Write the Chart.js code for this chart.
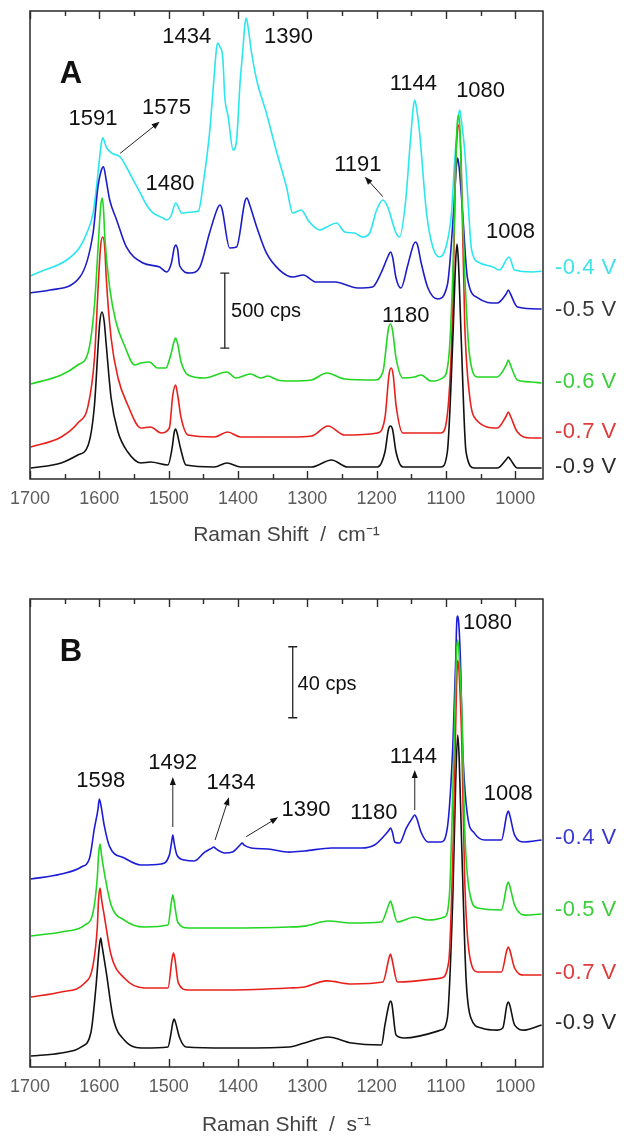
<!DOCTYPE html>
<html>
<head>
<meta charset="utf-8">
<script src="https://cdn.jsdelivr.net/npm/chart.js@4.4.1/dist/chart.umd.min.js"></script>
<style>
  html, body { margin: 0; padding: 0; background: #fff; }
  #wrap { position: relative; width: 624px; height: 1137px; }
  canvas { position: absolute; left: 0; }
  #cA { top: 0; }
  #cB { top: 568px; }
</style>
</head>
<body>
<div id="wrap">
  <canvas id="cA" width="624" height="568"></canvas>
  <canvas id="cB" width="624" height="569"></canvas>
</div>
<script>
// ---------- axis ticks (Raman shift) ----------
const shiftTicks = [1700, 1600, 1500, 1400, 1300, 1200, 1100, 1000];
const shiftMinor = [1650, 1550, 1450, 1350, 1250, 1150, 1050];

// ---------- Panel A : spectra (cps, stacked) ----------
const potentialsA = ['-0.4 V', '-0.5 V', '-0.6 V', '-0.7 V', '-0.9 V'];

const shiftA04 = [1699,1686,1647,1628,1618,1609,1604,1601,1597,1595,1592,1590,1582,1570,1561,1551,1541,1530,1522,1508,1503,1496,1490,1481,1467,1457,1450,1441,1434,1431,1429,1426,1422,1419,1414,1407,1402,1397,1393,1390,1388,1385,1381,1373,1359,1345,1330,1321,1309,1297,1282,1272,1258,1246,1232,1220,1210,1200,1191,1184,1172,1167,1158,1152,1147,1145,1142,1138,1128,1119,1109,1100,1092,1088,1082,1080,1078,1073,1068,1063,1051,1032,1023,1009,1001,975,962];
const cpsA04   = [1355,1380,1460,1547,1640,1773,1947,2080,2240,2275,2240,2213,2173,2147,2080,1993,1907,1813,1773,1740,1727,1760,1840,1773,1780,1787,1973,2307,2707,2870,2907,2880,2813,2547,2413,2193,2260,2640,2860,3030,3073,3000,2860,2660,2440,2193,1947,1773,1793,1713,1660,1680,1707,1647,1640,1613,1640,1793,1860,1813,1640,1613,1860,2213,2480,2527,2460,2307,1773,1547,1480,1547,1773,2080,2420,2460,2400,2193,1840,1527,1440,1413,1393,1480,1393,1380,1385];

const shiftA05 = [1700,1671,1628,1609,1602,1597,1594,1590,1585,1575,1561,1537,1513,1503,1496,1492,1490,1487,1484,1469,1455,1441,1429,1426,1423,1412,1402,1390,1387,1384,1373,1359,1340,1321,1306,1287,1260,1227,1206,1193,1183,1180,1177,1172,1165,1155,1147,1144,1141,1136,1126,1112,1098,1089,1085,1083,1081,1076,1069,1054,1026,1013,1010,1007,997,962];
const cpsA05   = [1240,1260,1347,1640,1947,2060,2082,1990,1860,1727,1547,1440,1413,1380,1440,1540,1560,1530,1420,1373,1413,1640,1810,1827,1800,1540,1547,1850,1873,1840,1680,1507,1393,1347,1360,1313,1313,1273,1280,1380,1490,1513,1480,1340,1273,1427,1560,1580,1560,1447,1273,1200,1293,1780,2080,2140,2080,1780,1340,1207,1173,1235,1260,1235,1147,1133];

const shiftA06 = [1699,1655,1631,1616,1607,1601,1598,1596,1594,1592,1585,1576,1564,1549,1540,1528,1516,1504,1497,1492,1490,1487,1482,1472,1448,1416,1403,1382,1367,1357,1343,1325,1294,1272,1246,1203,1191,1183,1180,1177,1172,1162,1145,1136,1121,1105,1096,1090,1087,1084,1082,1080,1077,1073,1066,1054,1026,1013,1010,1007,997,977,962];
const cpsA06   = [633,693,760,847,1160,1607,1820,1873,1800,1607,1273,1047,893,760,773,780,740,740,827,920,940,900,780,693,673,713,673,700,673,687,660,653,660,707,667,660,713,1000,1033,990,807,673,680,693,653,673,807,1380,1900,2350,2427,2350,1900,1380,827,680,680,760,793,760,660,647,640];

const shiftA07 = [1699,1655,1631,1616,1607,1601,1598,1595,1592,1590,1583,1573,1559,1540,1526,1511,1499,1494,1490,1487,1482,1472,1434,1415,1396,1325,1294,1270,1246,1199,1188,1182,1179,1176,1172,1162,1107,1098,1090,1086,1083,1081,1078,1073,1066,1056,1026,1013,1010,1007,997,977,962];
const cpsA07   = [213,280,373,493,807,1340,1560,1613,1530,1340,940,673,493,340,347,307,340,560,627,560,407,293,280,313,280,280,287,353,293,307,407,700,740,690,493,307,307,427,1160,2100,2330,2360,2100,1050,560,393,340,420,447,420,313,273,273];

const shiftA09 = [1699,1655,1631,1616,1607,1601,1599,1596,1593,1590,1583,1573,1559,1540,1526,1501,1495,1492,1490,1488,1483,1475,1434,1416,1396,1325,1294,1265,1242,1199,1188,1183,1180,1177,1172,1162,1107,1098,1090,1086,1084,1082,1078,1071,1059,1026,1013,1010,1007,997,962];
const cpsA09   = [73,107,160,227,493,940,1060,1113,1050,893,540,313,180,107,113,93,207,310,333,310,207,93,80,107,80,80,80,127,80,80,180,330,353,330,180,80,80,180,940,1450,1567,1450,940,180,73,73,130,147,130,73,73];

// ---------- Panel B : spectra (cps, stacked) ----------
const potentialsB = ['-0.4 V', '-0.5 V', '-0.7 V', '-0.9 V'];

const shiftB04 = [1699,1655,1626,1614,1607,1602,1600,1597,1593,1585,1564,1540,1511,1499,1496,1494,1492,1488,1477,1463,1448,1437,1435,1432,1419,1408,1396,1394,1391,1381,1357,1326,1304,1265,1222,1203,1188,1182,1180,1177,1174,1167,1157,1148,1145,1142,1136,1126,1107,1098,1090,1086,1084.5,1083,1081.5,1079,1076,1069,1059,1044,1020,1012,1010,1008,1001,987,962];
const cpsB04   = [105.9,108.7,112.7,117.8,134.7,145.0,151.0,146.0,136.3,124.0,117.8,113.8,114.4,119.4,126.0,130.7,126.0,119.4,116.6,116.1,121.1,123.5,124.0,123.0,120.6,121.1,125.5,126.2,125.0,123.4,122.8,121.1,121.7,123.4,123.4,125.1,130.7,133.5,134.7,132.0,126.8,126.2,134.7,140.5,142.0,140.0,132.4,126.8,126.8,134.7,181.4,228.2,250.0,254.1,250.0,228.2,181.4,142.0,131.8,127.9,127.9,142.5,144.2,142.0,130.7,126.8,127.9];

const shiftB05 = [1699,1655,1621,1609,1603,1601,1599,1597,1593,1583,1564,1535,1501,1496,1494,1492,1487,1472,1415,1326,1304,1270,1236,1193,1182,1180,1178,1170,1145,1126,1102,1095,1089,1085,1083,1081,1077,1073,1066,1054,1020,1012,1010,1008,1001,987,962];
const cpsB05   = [73.8,76.1,80.0,87.3,106.5,120.0,125.6,120.0,109.9,91.3,82.8,78.9,80.0,93.0,96.9,93.0,81.7,78.3,78.3,78.9,79.4,82.3,81.1,81.7,92.0,93.5,91.5,81.7,84.5,82.8,84.5,96.9,171.8,232.0,240.6,232.0,200.0,134.7,98.6,89.6,88.5,102.5,104.2,102.0,91.3,85.6,86.2];

const shiftB07 = [1699,1655,1621,1609,1603,1601,1599,1597,1593,1583,1564,1535,1501,1495,1493,1491,1486,1472,1415,1326,1304,1272,1236,1191,1182,1180,1178,1170,1107,1096,1089,1085,1083,1081,1077,1073,1066,1054,1020,1012,1010,1008,1001,987,962];
const cpsB07   = [39.4,42.3,47.3,57.5,78.3,95.0,100.8,95.0,85.6,63.1,50.1,44.5,44.5,61.0,64.2,61.0,47.3,43.4,43.4,44.5,45.1,48.5,46.8,47.9,61.5,63.7,61.0,47.9,50.1,59.2,134.7,210.0,229.3,222.0,180.0,106.5,63.1,53.5,53.5,66.0,67.6,66.0,55.8,51.8,51.8];

const shiftB09 = [1699,1655,1626,1612,1605,1600,1598,1596,1590,1580,1564,1535,1501,1497,1494,1492,1490,1484,1475,1415,1326,1304,1270,1236,1193,1188,1182,1180,1178,1172,1160,1107,1098,1090,1086,1083,1081,1078,1071,1064,1049,1026,1018,1012,1010,1008,1001,987,962];
const cpsB09   = [6.2,7.9,11.3,19.7,44.5,68.0,72.7,68.0,53.5,27.6,15.2,10.7,11.3,18.0,25.0,27.0,25.0,16.3,11.3,10.7,11.3,13.5,16.9,13.5,12.4,23.7,35.5,37.2,35.5,18.0,16.3,20.8,27.6,96.9,160.0,187.0,175.0,134.7,50.1,27.6,22.0,20.8,22.0,35.0,36.6,35.0,23.7,20.8,23.7];

// ---------- helpers ----------
const FONT = "'Liberation Sans', Arial, sans-serif";
const zip = (xs, ys) => xs.map((x, i) => ({ x: x, y: ys[i] }));

function trace(label, xs, ys, color, order) {
  return { label, data: zip(xs, ys), borderColor: color, borderWidth: 1.6,
           pointRadius: 0, cubicInterpolationMode: 'monotone', order, fill: false };
}

function arrow(ctx, x1, y1, x2, y2) {
  const a = Math.atan2(y2 - y1, x2 - x1), L = 8, W = 3;
  ctx.beginPath();
  ctx.moveTo(x1, y1);
  ctx.lineTo(x2 - L * 0.7 * Math.cos(a), y2 - L * 0.7 * Math.sin(a));
  ctx.stroke();
  ctx.beginPath();
  ctx.moveTo(x2, y2);
  ctx.lineTo(x2 - L * Math.cos(a) + W * Math.sin(a), y2 - L * Math.sin(a) - W * Math.cos(a));
  ctx.lineTo(x2 - L * Math.cos(a) - W * Math.sin(a), y2 - L * Math.sin(a) + W * Math.cos(a));
  ctx.closePath();
  ctx.fill();
}

// Frame, inward ticks on top and bottom, peak labels, arrows, scale bar, potentials
function decorations(spec) {
  return {
    id: 'decor',
    afterDatasetsDraw(chart) {
      const { ctx, chartArea: ca, scales: { x, y } } = chart;
      ctx.save();
      ctx.strokeStyle = '#2a2a2a';
      ctx.lineWidth = 1.5;
      ctx.strokeRect(ca.left, ca.top, ca.right - ca.left, ca.bottom - ca.top);
      ctx.lineWidth = 1.4;
      const tick = (v, len) => {
        const px = Math.round(x.getPixelForValue(v)) + 0.5;
        ctx.beginPath();
        ctx.moveTo(px, ca.bottom); ctx.lineTo(px, ca.bottom - len);
        ctx.moveTo(px, ca.top); ctx.lineTo(px, ca.top + len);
        ctx.stroke();
      };
      shiftTicks.forEach(v => tick(v, 8));
      shiftMinor.forEach(v => tick(v, 5));

      // scale bar
      const bx = x.getPixelForValue(spec.bar.x);
      const b1 = y.getPixelForValue(spec.bar.from), b2 = y.getPixelForValue(spec.bar.to);
      ctx.strokeStyle = '#222'; ctx.lineWidth = 1.3;
      ctx.beginPath();
      ctx.moveTo(bx, b1); ctx.lineTo(bx, b2);
      ctx.moveTo(bx - 4.5, b1); ctx.lineTo(bx + 4.5, b1);
      ctx.moveTo(bx - 4.5, b2); ctx.lineTo(bx + 4.5, b2);
      ctx.stroke();

      // arrows
      ctx.strokeStyle = '#222'; ctx.fillStyle = '#111'; ctx.lineWidth = 1;
      spec.arrows.forEach(a => arrow(ctx,
        x.getPixelForValue(a[0]), y.getPixelForValue(a[1]),
        x.getPixelForValue(a[2]), y.getPixelForValue(a[3])));

      // text notes
      ctx.textBaseline = 'middle';
      spec.notes.forEach(n => {
        ctx.font = n.font;
        ctx.fillStyle = n.color || '#111';
        ctx.textAlign = n.align || 'center';
        ctx.fillText(n.t, x.getPixelForValue(n.x), y.getPixelForValue(n.y));
      });

      // potential labels to the right of the frame
      ctx.font = '22px ' + FONT;
      ctx.textAlign = 'left';
      ctx.letterSpacing = '0.5px';
      spec.potentials.forEach((p, i) => {
        ctx.fillStyle = spec.potentialColors[i];
        ctx.fillText(p, ca.right + 12, y.getPixelForValue(spec.potentialLevels[i]));
      });
      ctx.restore();
    }
  };
}

function makeChart(id, datasets, yMax, axisTitle, padTop, axisHeight, titlePad, spec) {
  return new Chart(document.getElementById(id), {
    type: 'line',
    data: { datasets },
    options: {
      responsive: false,
      animation: false,
      events: [],
      layout: { padding: { left: 30, right: 81, top: padTop, bottom: 0 } },
      plugins: { legend: { display: false }, tooltip: { enabled: false } },
      scales: {
        x: {
          type: 'linear', reverse: true, min: 960, max: 1700,
          afterBuildTicks: s => { s.ticks = shiftTicks.map(v => ({ value: v })); },
          afterFit: s => { s.height = axisHeight; },
          grid: { display: false, drawTicks: false },
          border: { display: false },
          ticks: { padding: 9, color: '#5c5c5c', maxRotation: 0, autoSkip: false,
                   font: { family: FONT, size: 18 }, callback: v => String(v) },
          title: { display: true, text: axisTitle, color: '#444',
                   font: { family: FONT, size: 21, lineHeight: 1 },
                   padding: { top: 0, bottom: titlePad } }
        },
        y: { display: false, min: 0, max: yMax }
      }
    },
    plugins: [decorations(spec)]
  });
}

const PEAK = '22px ' + FONT;
const BIG = 'bold 31px ' + FONT;
const BAR = '20px ' + FONT;

// ---------- Panel A ----------
makeChart('cA', [
  trace(potentialsA[4], shiftA09, cpsA09, '#111111', 0),
  trace(potentialsA[2], shiftA06, cpsA06, '#22d622', 1),
  trace(potentialsA[3], shiftA07, cpsA07, '#e8201c', 2),
  trace(potentialsA[1], shiftA05, cpsA05, '#1c1cc8', 3),
  trace(potentialsA[0], shiftA04, cpsA04, '#2ae6ee', 4)
], 3120, 'Raman Shift  /  cm\u207B\u00B9', 11, 89, 22.5, {
  bar: { x: 1419, from: 873, to: 1373 },
  arrows: [[1570, 2171, 1513, 2382], [1191, 1882, 1217, 2015]],
  notes: [
    { t: 'A', x: 1641, y: 2700, font: BIG },
    { t: '1591', x: 1609, y: 2400, font: PEAK },
    { t: '1575', x: 1503, y: 2473, font: PEAK },
    { t: '1480', x: 1498, y: 1967, font: PEAK },
    { t: '1434', x: 1474, y: 2947, font: PEAK },
    { t: '1390', x: 1327, y: 2947, font: PEAK },
    { t: '1191', x: 1227, y: 2093, font: PEAK },
    { t: '1144', x: 1147, y: 2633, font: PEAK },
    { t: '1080', x: 1050, y: 2587, font: PEAK },
    { t: '1008', x: 1007, y: 1647, font: PEAK },
    { t: '1180', x: 1158, y: 1087, font: PEAK },
    { t: '500 cps', x: 1410, y: 1120, font: BAR, align: 'left' }
  ],
  potentials: potentialsA,
  potentialLevels: [1407, 1127, 647, 313, 80],
  potentialColors: ['#3fe3ea', '#3a3a3a', '#3ccf3c', '#e03a3a', '#2a2a2a']
});

// ---------- Panel B ----------
makeChart('cB', [
  trace(potentialsB[1], shiftB05, cpsB05, '#22d622', 0),
  trace(potentialsB[2], shiftB07, cpsB07, '#e8201c', 1),
  trace(potentialsB[3], shiftB09, cpsB09, '#111111', 2),
  trace(potentialsB[0], shiftB04, cpsB04, '#1c1cd8', 3)
], 263.7, 'Raman Shift  /  s\u207B\u00B9', 31, 70, 1.5, {
  bar: { x: 1321, from: 196.8, to: 236.8 },
  arrows: [[1494, 135.2, 1494, 163.4], [1433, 127.9, 1413, 152.0],
           [1388, 129.8, 1342, 140.7], [1145, 144.8, 1145, 167.3]],
  notes: [
    { t: 'B', x: 1641, y: 233.8, font: BIG },
    { t: '1598', x: 1598, y: 161.1, font: PEAK },
    { t: '1492', x: 1494, y: 171.3, font: PEAK },
    { t: '1434', x: 1410, y: 160.0, font: PEAK },
    { t: '1390', x: 1302, y: 144.8, font: PEAK },
    { t: '1180', x: 1204, y: 143.1, font: PEAK },
    { t: '1144', x: 1147, y: 174.7, font: PEAK },
    { t: '1080', x: 1040, y: 250.1, font: PEAK },
    { t: '1008', x: 1010, y: 153.8, font: PEAK },
    { t: '40 cps', x: 1314, y: 215.8, font: BAR, align: 'left' }
  ],
  potentials: potentialsB,
  potentialLevels: [129.0, 88.5, 53.0, 24.8],
  potentialColors: ['#3838d0', '#3ccf3c', '#e03a3a', '#2a2a2a']
});
</script>
</body>
</html>
